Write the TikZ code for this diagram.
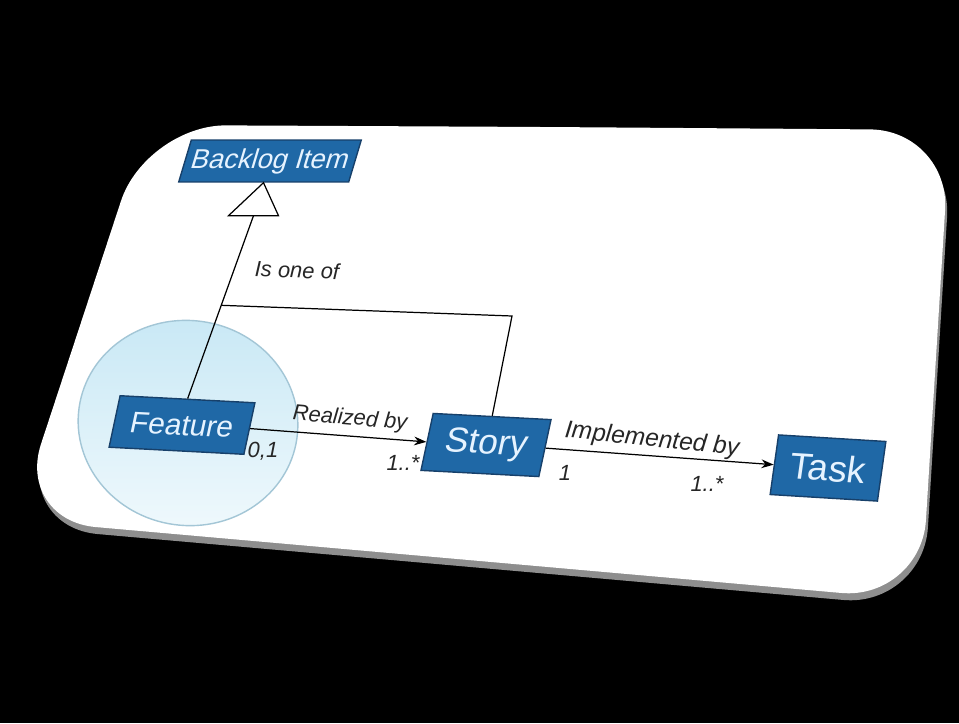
\documentclass[tikz,border=0pt]{standalone}
\usepackage{fontspec}
\setmainfont{Liberation Sans}
\usetikzlibrary{positioning,arrows.meta,calc,shapes.geometric}
\definecolor{umlblue}{HTML}{1F68A6}
\definecolor{umlborder}{HTML}{17406A}
\definecolor{umltext}{HTML}{E6F3FF}
\definecolor{halotop}{HTML}{C8E8F5}
\definecolor{halobot}{HTML}{EEF8FC}
\definecolor{halodraw}{HTML}{A3C6D6}
\definecolor{cardedge}{HTML}{8E8E8E}
\tikzset{
	uml/.style={x=0.02cm,y=-0.02cm,>={Stealth[length=7pt,width=5pt]},line width=0.7pt},
	entity/.style={draw=umlborder,fill=umlblue,text=umltext,inner sep=0pt,line width=0.8pt},
	lbl/.style={font=\itshape\fontsize{12.5}{14}\selectfont,text=black!85,inner sep=0pt},
	halo/.style={ellipse,draw=halodraw,top color=halotop,bottom color=halobot,
		minimum width=4.4cm,minimum height=4.1cm,line width=0.8pt}
}

\begin{document}
\begin{tikzpicture}[uml]
	
	\fill[black] (0,0) rectangle (959,723);
	\useasboundingbox (0,0) rectangle (959,723);
	% card
	\fill[cardedge,rounded corners=1.6cm] (550,134) -- (952,137) -- (923,607) -- (18,527) -- (148,132) -- cycle;
	\fill[white,rounded corners=1.6cm] (550,127) -- (950,130) -- (921,600) -- (16,520) -- (146,125) -- cycle;
	
	\node[halo,rotate=-8] (hl) at (188,423) {};
	
	\node[entity,xslant=0.3,minimum width=3.4cm,minimum height=0.84cm,font=\fontsize{15.5}{18}\selectfont] (bli) at (270,161) {Backlog Item};
	\node[entity,rotate=-3,xslant=0.16,minimum width=2.7cm,minimum height=1.04cm,font=\fontsize{17}{20}\selectfont] (feat) at (182,425) {Feature};
	\node[entity,rotate=-3,xslant=0.16,minimum width=2.36cm,minimum height=1.15cm,font=\fontsize{20}{24}\selectfont] (story) at (486,445) {Story};
	\node[entity,rotate=-3.5,xslant=0.08,minimum width=2.15cm,minimum height=1.2cm,font=\fontsize{21}{25}\selectfont] (task) at (828,468) {Task};
	
	\coordinate (tb) at ($(bli.south)+(-10,33)$);
	\coordinate (jn) at ($(feat.north)!0.51!(tb)$);
	\coordinate (jc) at (512,316);
	
	\draw[fill=white] (bli.south) -- ++(-35,33) -- ++(50,0) -- cycle;
	\draw (feat.north) -- (tb);
	\draw (jn) -- (jc) -- (story.north);
	\draw[->] (feat.east) -- (story.west);
	\draw[->] (story.east) -- (task.west);
	
	\node[lbl,rotate=-2] (isone) at (297,270) {Is one of};
	\node[lbl,rotate=-5] (realby) at (350,419) {Realized by};
	\node[lbl] (m01) at (263,451) {0,1};
	\node[lbl] (m1a) at (403,463) {1..*};
	\node[lbl,rotate=-6,font=\itshape\fontsize{14}{16}\selectfont] (implby) at (652,440) {Implemented by};
	\node[lbl] (m1) at (565,473) {1};
	\node[lbl] (m1b) at (707,484) {1..*};
	
\end{tikzpicture}
\end{document}
